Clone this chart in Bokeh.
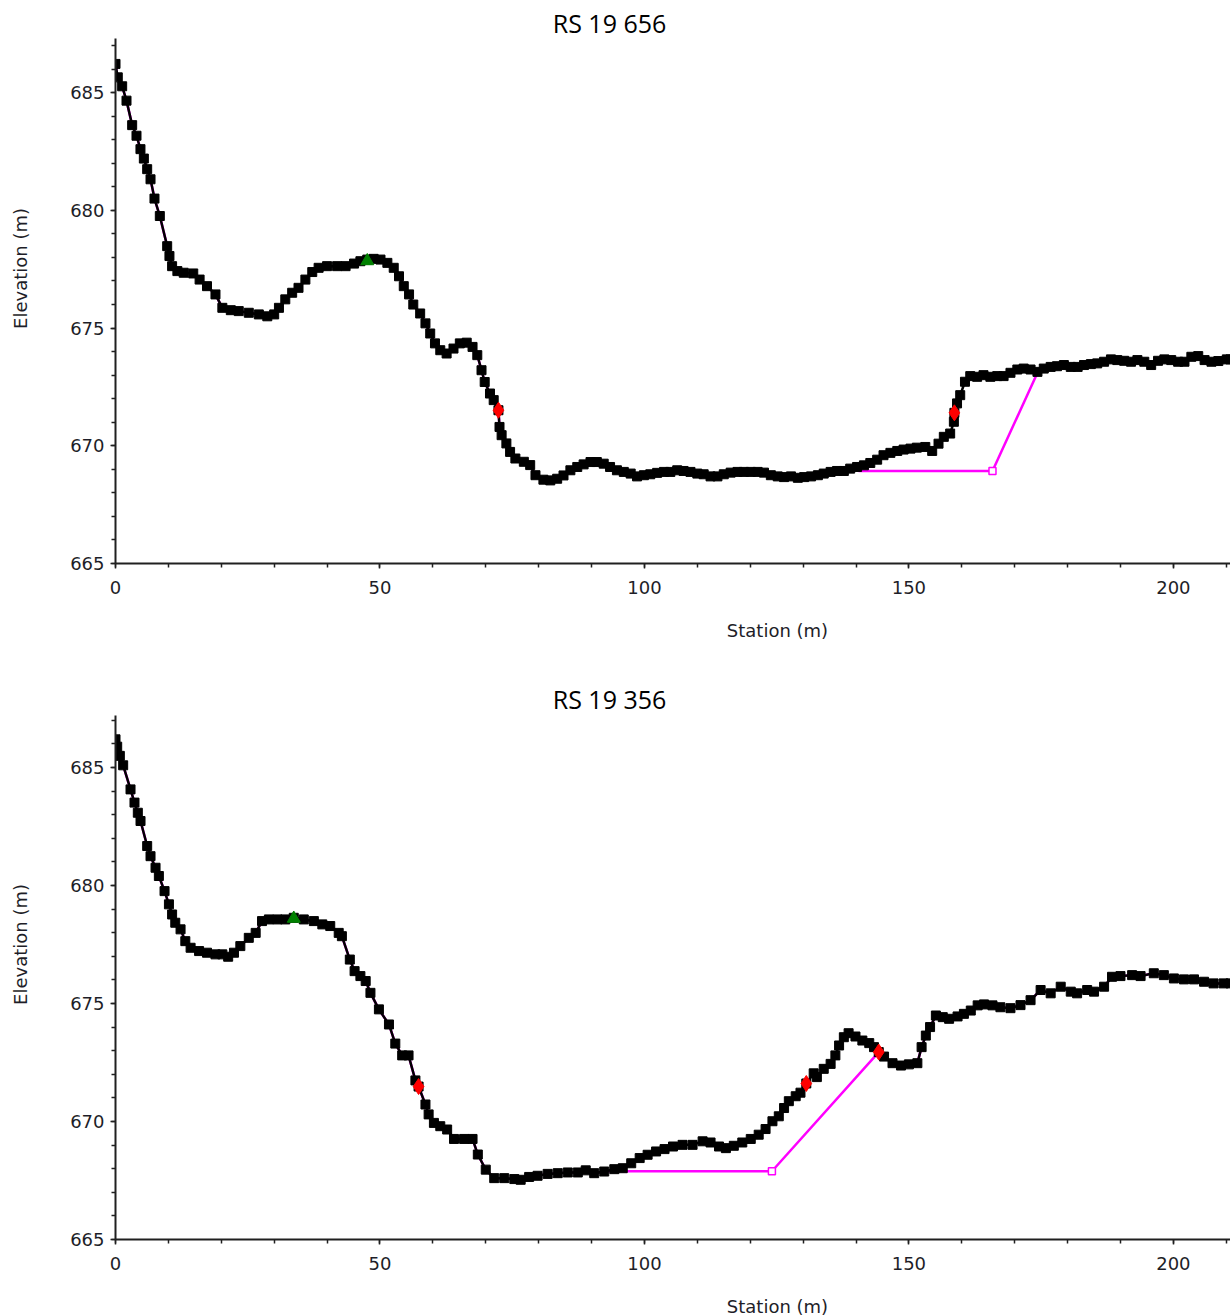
import math
from bokeh.plotting import figure
from bokeh.layouts import column
from bokeh.models import Range1d, SingleIntervalTicker, Label
from bokeh.embed import file_html
from bokeh.resources import INLINE

# ---------------- data ----------------
TITLES = ["RS 19 656", "RS 19 356"]
X_LABEL = "Station (m)"
Y_LABEL = "Elevation (m)"
X_MAX = 210.8
Y_MIN = 665.0
Y_MAX = [687.3, 687.2]

# RS 19 656 ground profile
g1_x = [0, 0.43, 1.26, 2.08, 3.15, 3.97, 4.72, 5.36, 5.99, 6.62, 7.37, 8.38, 9.77, 10.2, 10.7,
        11.7, 12.9, 14.7, 15.9, 17.3, 18.9, 20.2, 21.8, 23.3, 25.2, 27.1, 28.7, 30.0, 30.9, 32.1,
        33.4, 34.6, 35.9, 37.2, 38.4, 40.0, 41.9, 43.5, 45.1, 46.3, 47.6, 48.8, 50.1, 51.4, 52.6,
        53.6, 54.5, 55.5, 56.3, 57.6, 58.6, 59.5, 60.4, 61.4, 62.6, 63.9, 65.1, 66.4, 67.5, 68.4,
        69.2, 69.8, 70.8, 71.5, 72.4, 72.6, 73.0, 73.9, 74.6, 75.6, 77.2, 78.4, 79.4, 80.9, 82.2,
        83.5, 84.7, 86.0, 87.3, 88.5, 89.8, 91.0, 92.3, 93.5, 94.8, 96.1, 97.4, 98.6, 99.9, 101.1,
        102.4, 103.7, 104.9, 106.2, 107.4, 108.7, 110.0, 111.2, 112.5, 113.8, 115.0, 116.3, 117.6,
        118.8, 120.1, 121.4, 122.6, 123.9, 125.2, 126.4, 127.7, 129.0, 130.2, 131.5, 132.8, 133.9,
        135.2, 136.4, 137.7, 138.9, 140.2, 141.5, 142.7, 144.0, 145.2, 146.5, 147.8, 149.0, 150.3,
        151.5, 153.1, 154.4, 155.6, 156.6, 157.8, 158.5, 158.6, 159.1, 159.7, 160.6, 161.6, 162.9,
        164.1, 165.4, 166.7, 167.9, 169.2, 170.5, 171.7, 173.0, 174.3, 175.5, 176.8, 178.0, 179.3,
        180.6, 181.9, 183.1, 184.4, 185.6, 186.9, 188.2, 189.4, 190.7, 192.0, 193.2, 194.5, 195.8,
        197.1, 198.3, 199.6, 200.9, 202.1, 203.4, 204.7, 205.9, 207.2, 208.5, 210.1, 210.8]
g1_y = [686.22, 685.65, 685.27, 684.66, 683.62, 683.17, 682.6, 682.2, 681.75, 681.32, 680.5, 679.76,
        678.48, 678.06, 677.63, 677.42, 677.35, 677.32, 677.06, 676.78, 676.43, 675.86, 675.76,
        675.72, 675.65, 675.58, 675.5, 675.58, 675.86, 676.22, 676.5, 676.71, 677.06, 677.38,
        677.56, 677.63, 677.63, 677.63, 677.74, 677.84, 677.91, 677.94, 677.91, 677.77, 677.56,
        677.2, 676.78, 676.43, 676.0, 675.62, 675.2, 674.77, 674.35, 674.06, 673.92, 674.13, 674.35,
        674.38, 674.2, 673.85, 673.21, 672.71, 672.22, 671.94, 671.51, 670.8, 670.45, 670.1, 669.74,
        669.46, 669.32, 669.18, 668.75, 668.56, 668.53, 668.6, 668.74, 668.96, 669.1, 669.21, 669.31,
        669.31, 669.24, 669.1, 668.96, 668.89, 668.82, 668.7, 668.75, 668.79, 668.85, 668.89, 668.89,
        668.96, 668.93, 668.89, 668.82, 668.79, 668.7, 668.7, 668.79, 668.86, 668.89, 668.89, 668.89,
        668.89, 668.86, 668.75, 668.7, 668.67, 668.7, 668.64, 668.67, 668.7, 668.75, 668.82, 668.89,
        668.93, 668.93, 669.03, 669.1, 669.17, 669.27, 669.41, 669.6, 669.7, 669.78, 669.84, 669.88,
        669.92, 669.95, 669.78, 670.09, 670.38, 670.52, 671.02, 671.4, 671.8, 672.15, 672.72, 672.96,
        672.93, 673.0, 672.93, 672.96, 672.96, 673.1, 673.24, 673.28, 673.24, 673.14, 673.28, 673.35,
        673.38, 673.43, 673.35, 673.35, 673.43, 673.47, 673.5, 673.57, 673.67, 673.64, 673.61, 673.57,
        673.64, 673.57, 673.43, 673.61, 673.67, 673.64, 673.57, 673.57, 673.78, 673.81, 673.64,
        673.57, 673.6, 673.67, 673.67]
# RS 19 656 modified channel (magenta) between its tie-in points
m1_x = [140.5, 165.8, 174.2]
m1_y = [668.93, 668.93, 673.05]
m1_corner = [165.8]
m1_corner_y = [668.93]
# bank stations (red) and levee point (green)
b1_x = [72.4, 158.6]
b1_y = [671.51, 671.4]
t1_x = [47.6]
t1_y = [677.85]

# RS 19 356 ground profile
g2_x = [0, 0.32, 0.82, 1.45, 2.84, 3.59, 4.22, 4.73, 5.99, 6.62, 7.57, 8.2, 9.27, 10.1, 10.7, 11.3,
        12.3, 13.2, 14.2, 15.8, 17.3, 18.9, 20.2, 21.3, 22.4, 23.6, 25.2, 26.5, 27.7, 29.0, 30.6,
        32.1, 33.7, 35.6, 37.5, 39.1, 40.6, 42.2, 42.8, 44.3, 45.2, 46.3, 47.3, 48.2, 49.8, 51.7,
        52.9, 54.2, 55.4, 56.7, 57.3, 58.6, 59.2, 60.2, 61.4, 62.7, 64.0, 65.9, 67.5, 68.5, 70.0,
        71.6, 73.5, 75.4, 76.6, 78.2, 79.8, 81.7, 83.6, 85.5, 87.4, 88.9, 90.5, 92.4, 94.3, 95.9,
        97.5, 99.1, 100.6, 102.2, 103.8, 105.4, 107.2, 109.1, 111.0, 112.5, 114.1, 115.4, 116.9,
        118.5, 120.1, 121.6, 122.9, 124.2, 125.4, 126.4, 127.3, 128.6, 129.5, 130.6, 132.0, 132.6,
        133.9, 135.2, 136.1, 136.8, 137.7, 138.6, 139.9, 141.2, 142.5, 143.4, 144.3, 145.3, 146.9,
        148.5, 150.0, 151.6, 152.4, 153.2, 154.0, 155.1, 156.4, 157.6, 159.2, 160.4, 161.7, 163.0,
        164.2, 165.8, 167.3, 169.2, 171.1, 173.0, 174.9, 176.8, 178.7, 180.6, 181.8, 183.7, 185.0,
        186.9, 188.4, 190.0, 192.2, 193.8, 196.3, 198.2, 200.1, 202.0, 203.9, 205.8, 207.6, 209.5,
        210.8]
g2_y = [686.19, 685.88, 685.49, 685.09, 684.07, 683.51, 683.08, 682.73, 681.67, 681.24, 680.75,
        680.4, 679.76, 679.2, 678.77, 678.42, 678.14, 677.64, 677.36, 677.22, 677.15, 677.08, 677.08,
        676.98, 677.15, 677.43, 677.78, 677.99, 678.49, 678.56, 678.56, 678.56, 678.63, 678.56,
        678.49, 678.35, 678.28, 677.99, 677.85, 676.86, 676.37, 676.16, 675.95, 675.45, 674.75,
        674.11, 673.3, 672.8, 672.8, 671.74, 671.48, 670.72, 670.3, 669.94, 669.8, 669.66, 669.26,
        669.26, 669.26, 668.6, 667.96, 667.6, 667.6, 667.56, 667.53, 667.65, 667.7, 667.78, 667.81,
        667.84, 667.84, 667.93, 667.81, 667.88, 667.98, 668.02, 668.23, 668.45, 668.59, 668.73,
        668.83, 668.94, 669.01, 669.01, 669.16, 669.11, 668.94, 668.87, 668.97, 669.11, 669.26,
        669.44, 669.68, 670.01, 670.22, 670.57, 670.86, 671.07, 671.22, 671.61, 672.04, 671.88,
        672.23, 672.44, 672.8, 673.22, 673.57, 673.74, 673.6, 673.43, 673.32, 673.15, 672.94,
        672.75, 672.47, 672.37, 672.42, 672.47, 673.15, 673.64, 674.0, 674.49, 674.42, 674.35,
        674.45, 674.56, 674.7, 674.92, 674.96, 674.92, 674.84, 674.8, 674.93, 675.14, 675.57,
        675.43, 675.71, 675.5, 675.43, 675.57, 675.5, 675.71, 676.13, 676.16, 676.2, 676.16,
        676.28, 676.2, 676.06, 676.02, 676.02, 675.92, 675.85, 675.85, 675.85]
m2_x = [93.5, 124.1, 144.3]
m2_y = [667.89, 667.89, 672.94]
m2_corner = [124.1]
m2_corner_y = [667.89]
b2_x = [57.3, 130.6, 144.3]
b2_y = [671.48, 671.61, 672.94]
t2_x = [33.7]
t2_y = [678.6]

PANELS = [
    dict(title=TITLES[0], ymax=Y_MAX[0], gx=g1_x, gy=g1_y, mx=m1_x, my=m1_y, cx=m1_corner, cy=m1_corner_y,
         bx=b1_x, by=b1_y, tx=t1_x, ty=t1_y, height=676, top=38, bottom=113),
    dict(title=TITLES[1], ymax=Y_MAX[1], gx=g2_x, gy=g2_y, mx=m2_x, my=m2_y, cx=m2_corner, cy=m2_corner_y,
         bx=b2_x, by=b2_y, tx=t2_x, ty=t2_y, height=640, top=39, bottom=77),
]

FRAME_LEFT = 115
FRAME_W = 1230 - FRAME_LEFT
TICK_FONT = "DejaVu Sans"
TEXT_COLOR = "#1e1e28"


def modified_path(gx, gy, mx, my):
    """Ground profile with the channel modification spliced in (magenta line)."""
    xs, ys = [], []
    for x, y in zip(gx, gy):
        if x < mx[0]:
            xs.append(x); ys.append(y)
    xs += mx; ys += my
    for x, y in zip(gx, gy):
        if x > mx[-1]:
            xs.append(x); ys.append(y)
    return xs, ys


def make_panel(d):
    ymax = d["ymax"]
    top, bottom, height = d["top"], d["bottom"], d["height"]
    frame_h = height - top - bottom

    # pixel position inside this figure -> data coordinates (for placing texts)
    def dx(px):
        return (px - FRAME_LEFT) * X_MAX / FRAME_W

    def dy(py):
        return Y_MIN + (top + frame_h - py) * (ymax - Y_MIN) / frame_h

    p = figure(width=1230, height=height, x_range=Range1d(0, X_MAX),
               y_range=Range1d(Y_MIN, ymax),
               output_backend="svg", toolbar_location=None,
               min_border_left=FRAME_LEFT, min_border_right=0,
               min_border_top=top, min_border_bottom=bottom)
    p.outline_line_color = None
    p.grid.visible = False

    p.xaxis.ticker = SingleIntervalTicker(interval=50, num_minor_ticks=5)
    p.yaxis.ticker = SingleIntervalTicker(interval=5, num_minor_ticks=5)
    for ax in (p.xaxis, p.yaxis):
        ax.axis_line_width = 2
        ax.axis_line_color = "#202020"
        ax.major_tick_in = 0
        ax.major_tick_out = 5
        ax.minor_tick_in = 0
        ax.minor_tick_out = 4
        ax.major_tick_line_width = 1.5
        ax.minor_tick_line_width = 1.5
        ax.major_tick_line_color = "#202020"
        ax.minor_tick_line_color = "#202020"
        ax.major_label_text_font = TICK_FONT
        ax.major_label_text_font_size = "18px"
        ax.major_label_text_color = TEXT_COLOR
    p.xaxis.major_label_standoff = 12
    p.yaxis.major_label_standoff = 6

    txt = dict(text_font=TICK_FONT, text_font_size="18px", text_color=TEXT_COLOR,
               text_align="center", text_baseline="middle")
    p.add_layout(Label(x=dx(609), y=dy(22), text=d["title"], text_align="center",
                       text_baseline="middle", text_font="Open Sans", text_font_size="25px",
                       text_color="black"), "above")
    p.add_layout(Label(x=dx(777), y=dy(630), text=X_LABEL, **txt), "below")
    p.add_layout(Label(x=dx(20), y=dy(268), text=Y_LABEL, angle=math.pi / 2, **txt), "left")

    mpx, mpy = modified_path(d["gx"], d["gy"], d["mx"], d["my"])
    p.line(mpx, mpy, line_color="#ff00ff", line_width=2.5)
    p.line(d["gx"], d["gy"], line_color="black", line_width=2.5)
    p.scatter(d["gx"], d["gy"], marker="square", size=9, fill_color="black", line_color="black")
    p.scatter(d["cx"], d["cy"], marker="square", size=7, fill_color="white", line_color="#ff00ff",
              line_width=1.5)
    p.scatter(d["bx"], d["by"], marker="diamond", size=16, fill_color="red", line_color="red")
    p.scatter(d["tx"], d["ty"], marker="triangle", size=13, fill_color="green", line_color="green")
    return p


figs = [make_panel(d) for d in PANELS]
layout = column(*figs, spacing=0)
open("out.html", "w").write(file_html(layout, INLINE))
